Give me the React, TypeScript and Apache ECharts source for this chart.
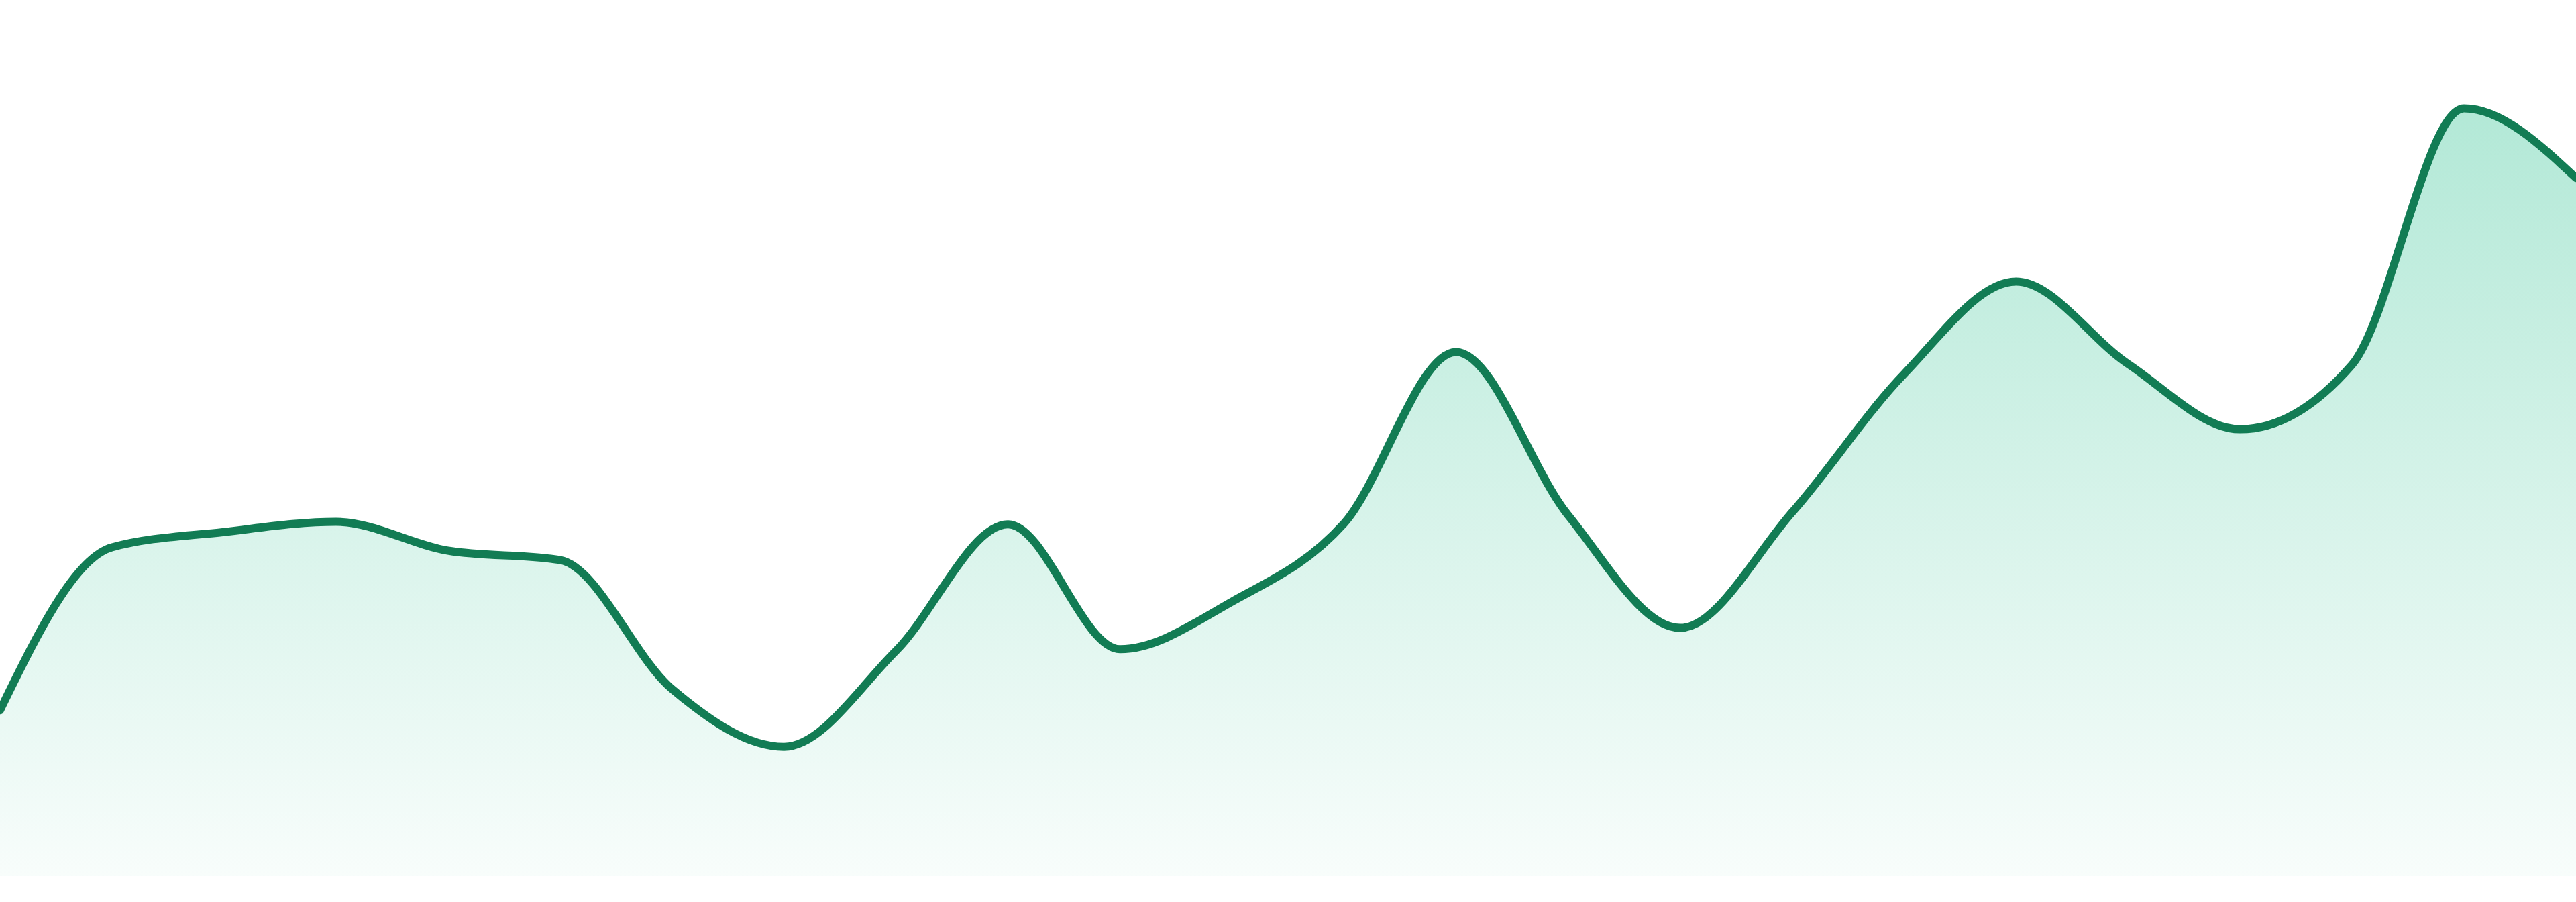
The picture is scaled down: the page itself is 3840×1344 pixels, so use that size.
import { useEffect, useRef } from "react";
import * as echarts from "echarts";

// one value per period
const periods = [
  "P01", "P02", "P03", "P04", "P05", "P06", "P07", "P08",
  "P09", "P10", "P11", "P12", "P13", "P14", "P15", "P16",
  "P17", "P18", "P19", "P20", "P21", "P22", "P23", "P24",
];

const values = [
  19.5, 38.7, 40.5, 41.7, 38.3, 37.2, 22.0, 15.2,
  26.5, 41.4, 26.7, 32.3, 41.5, 61.7, 42.5, 29.2,
  42.8, 59.1, 70.0, 60.3, 52.6, 60.2, 90.4, 82.2,
];

const axisMin = 0;
const axisMax = 100;

type Point = [number, number];

// monotone cubic (same rule as d3's curveMonotoneX) on pixel points
function tangents(points: Point[]): number[] {
  const n = points.length;
  const slopes: number[] = [];
  for (let i = 0; i < n - 1; i++) {
    const h = points[i + 1][0] - points[i][0];
    slopes.push(h === 0 ? 0 : (points[i + 1][1] - points[i][1]) / h);
  }
  const t: number[] = new Array(n).fill(0);
  for (let i = 1; i < n - 1; i++) {
    const h0 = points[i][0] - points[i - 1][0];
    const h1 = points[i + 1][0] - points[i][0];
    const s0 = slopes[i - 1];
    const s1 = slopes[i];
    const p = (s0 * h1 + s1 * h0) / (h0 + h1);
    t[i] =
      (Math.sign(s0) + Math.sign(s1)) *
        Math.min(Math.abs(s0), Math.abs(s1), 0.5 * Math.abs(p)) || 0;
  }
  if (n > 1) {
    t[0] = (3 * slopes[0] - t[1]) / 2;
    t[n - 1] = (3 * slopes[n - 2] - t[n - 2]) / 2;
  }
  return t;
}

function curvePath(points: Point[]): string {
  const t = tangents(points);
  let d = `M${points[0][0]},${points[0][1]}`;
  for (let i = 0; i < points.length - 1; i++) {
    const [x0, y0] = points[i];
    const [x1, y1] = points[i + 1];
    const dx = (x1 - x0) / 3;
    d += `C${x0 + dx},${y0 + dx * t[i]},${x1 - dx},${y1 - dx * t[i + 1]},${x1},${y1}`;
  }
  return d;
}

export default function App() {
  const reference = useRef<HTMLDivElement>(null);

  useEffect(() => {
    document.body.style.margin = "0";
    const element = reference.current;
    if (element === null) return;
    const chart = echarts.init(element, undefined, { renderer: "svg" });
    chart.setOption({
      animation: false,
      backgroundColor: "#ffffff",
      grid: { left: 0, right: 0, top: 40, bottom: 39 },
      xAxis: {
        type: "category",
        data: periods,
        boundaryGap: false,
        show: false,
      },
      yAxis: {
        type: "value",
        min: axisMin,
        max: axisMax,
        show: false,
      },
      series: [
        {
          name: "value",
          type: "custom",
          data: values.map((value, index) => [index, value]),
          encode: { x: 0, y: 1 },
          renderItem: (params: any, api: any) => {
            if (params.dataIndex !== 0) return null;
            const points: Point[] = values.map(
              (value, index) => api.coord([index, value]) as Point,
            );
            const baseline = api.coord([0, axisMin])[1];
            const line = curvePath(points);
            const last = points[points.length - 1];
            const area = `${line}L${last[0]},${baseline}L${points[0][0]},${baseline}Z`;
            return {
              type: "group",
              children: [
                {
                  type: "path",
                  shape: { pathData: area },
                  style: {
                    fill: new echarts.graphic.LinearGradient(0, 0, 0, 1, [
                      { offset: 0, color: "rgba(16, 185, 129, 0.32)" },
                      { offset: 1, color: "rgba(16, 185, 129, 0.03)" },
                    ]),
                    stroke: "none",
                  },
                },
                {
                  type: "path",
                  shape: { pathData: line },
                  style: {
                    fill: "none",
                    stroke: "#127c54",
                    lineWidth: 12,
                    lineJoin: "round",
                    lineCap: "round",
                  },
                },
              ],
            };
          },
        },
      ],
    });
    const resize = () => chart.resize();
    window.addEventListener("resize", resize);
    return () => {
      window.removeEventListener("resize", resize);
      chart.dispose();
    };
  }, []);

  return <div ref={reference} style={{ width: 3840, height: 1344 }} />;
}
